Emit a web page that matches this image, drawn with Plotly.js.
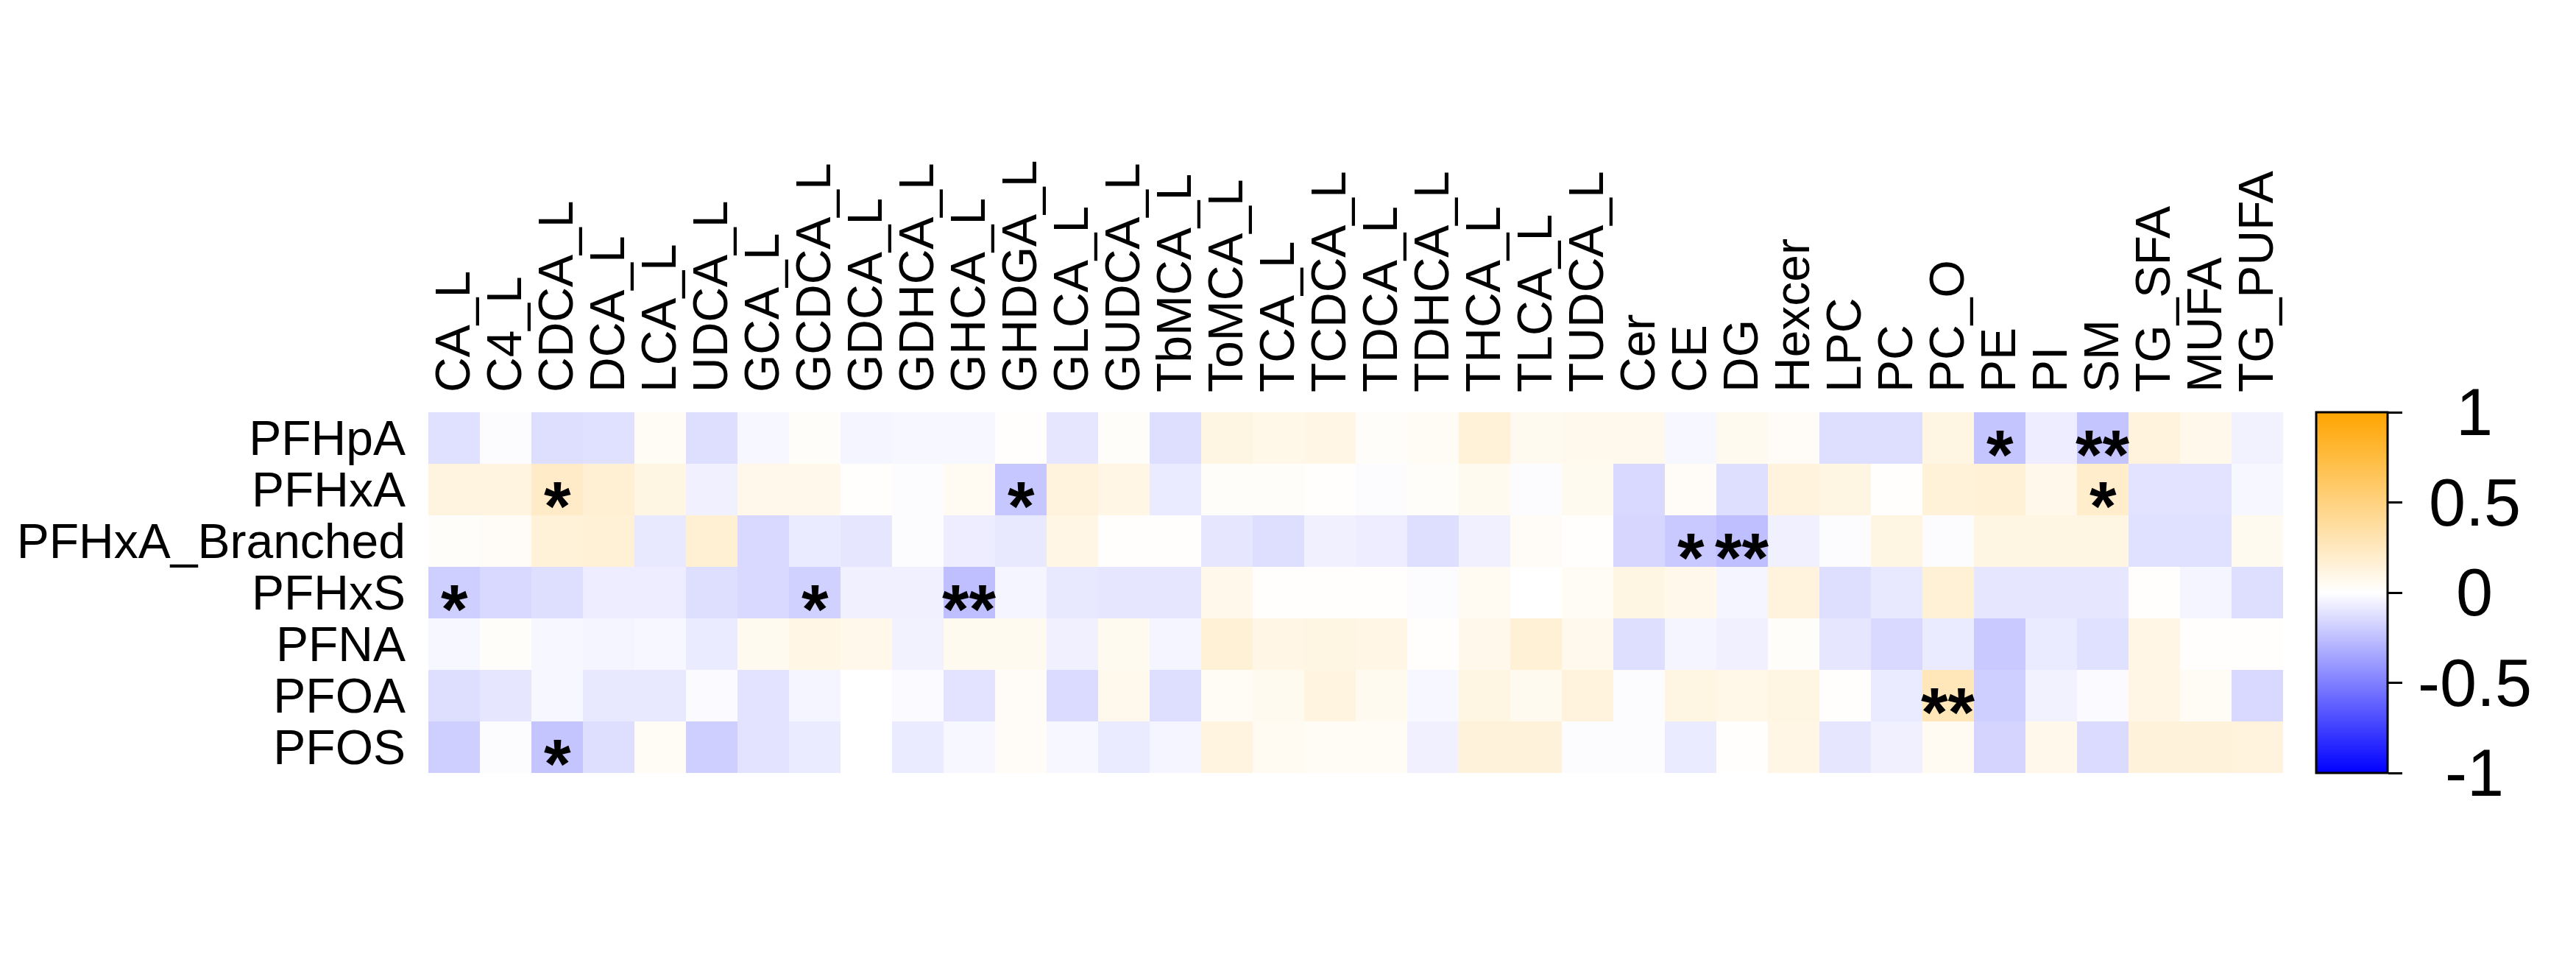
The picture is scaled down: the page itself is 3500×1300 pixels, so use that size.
<!DOCTYPE html>
<html>
<head>
<meta charset="utf-8">
<script src="https://cdn.plot.ly/plotly-3.0.1.min.js"></script>
<style>html,body{margin:0;padding:0;background:#fff;}</style>
</head>
<body>
<div id="chart" style="width:3500px;height:1300px;"></div>
<script>
// ---- Data ----
const rows = ["PFHpA", "PFHxA", "PFHxA_Branched", "PFHxS", "PFNA", "PFOA", "PFOS"];
const cols = ["CA_L", "C4_L", "CDCA_L", "DCA_L", "LCA_L", "UDCA_L", "GCA_L", "GCDCA_L", "GDCA_L", "GDHCA_L",
  "GHCA_L", "GHDGA_L", "GLCA_L", "GUDCA_L", "TbMCA_L", "ToMCA_L", "TCA_L", "TCDCA_L", "TDCA_L", "TDHCA_L",
  "THCA_L", "TLCA_L", "TUDCA_L", "Cer", "CE", "DG", "Hexcer", "LPC", "PC", "PC_O", "PE", "PI", "SM",
  "TG_SFA", "MUFA", "TG_PUFA"];

const PFHpA = [-0.12, -0.01, -0.13, -0.12, 0.04, -0.13, -0.03, 0.02, -0.04, -0.03, -0.03, 0.01, -0.10, 0.02, -0.13, 0.11, 0.09, 0.10, 0.02, 0.04, 0.15, 0.06, 0.07, 0.07, -0.03, 0.06, 0.03, -0.13, -0.13, 0.11, -0.23, -0.07, -0.23, 0.13, 0.08, -0.05];
const PFHxA = [0.12, 0.12, 0.22, 0.17, 0.11, -0.06, 0.08, 0.08, 0.01, -0.01, 0.05, -0.22, 0.13, 0.10, -0.08, 0.02, 0.02, 0.01, -0.01, 0.02, 0.06, -0.01, 0.06, -0.15, 0.03, -0.13, 0.13, 0.11, 0.01, 0.15, 0.16, 0.08, 0.20, -0.11, -0.11, -0.03];
const PFHxA_Branched = [0.02, 0.03, 0.15, 0.16, -0.09, 0.17, -0.15, -0.08, -0.10, -0.01, -0.07, -0.09, 0.10, 0.01, 0.01, -0.10, -0.13, -0.06, -0.07, -0.13, -0.06, 0.03, 0.01, -0.16, -0.21, -0.25, -0.06, -0.01, 0.11, -0.01, 0.11, 0.11, 0.11, -0.12, -0.12, 0.06];
const PFHxS = [-0.19, -0.15, -0.13, -0.07, -0.07, -0.13, -0.15, -0.18, -0.06, -0.06, -0.25, -0.04, -0.09, -0.10, -0.10, 0.08, 0.01, 0.01, 0.01, -0.01, 0.05, 0.00, 0.04, 0.11, 0.08, -0.04, 0.13, -0.13, -0.09, 0.16, -0.10, -0.10, -0.10, 0.01, -0.04, -0.13];
const PFNA = [-0.03, 0.02, -0.03, -0.04, -0.03, -0.08, 0.06, 0.10, 0.08, -0.05, 0.06, 0.06, -0.06, 0.06, -0.04, 0.16, 0.10, 0.11, 0.10, 0.01, 0.08, 0.16, 0.07, -0.13, -0.04, -0.06, 0.02, -0.10, -0.15, -0.08, -0.21, -0.08, -0.12, 0.10, 0.01, 0.01];
const PFOA = [-0.13, -0.10, -0.03, -0.09, -0.09, -0.02, -0.11, -0.04, 0.00, -0.02, -0.11, 0.03, -0.14, 0.07, -0.13, 0.04, 0.06, 0.12, 0.06, -0.03, 0.11, 0.06, 0.13, -0.01, 0.11, 0.09, 0.11, 0.01, -0.08, 0.27, -0.19, -0.05, -0.02, 0.10, 0.04, -0.15];
const PFOS = [-0.19, -0.01, -0.23, -0.13, 0.04, -0.19, -0.11, -0.08, 0.00, -0.08, -0.03, 0.03, -0.03, -0.08, -0.04, 0.12, 0.05, 0.04, 0.04, -0.06, 0.14, 0.14, -0.01, -0.01, -0.08, 0.01, 0.10, -0.10, -0.06, 0.05, -0.17, 0.08, -0.14, 0.14, 0.14, 0.13];

// significance markers
const sigRow = ["PFHpA", "PFHpA", "PFHxA", "PFHxA", "PFHxA", "PFHxA_Branched", "PFHxA_Branched", "PFHxS", "PFHxS", "PFHxS", "PFOA", "PFOS"];
const sigCol = ["PE", "SM", "CDCA_L", "GHDGA_L", "SM", "CE", "DG", "CA_L", "GCDCA_L", "GHCA_L", "PC_O", "CDCA_L"];
const sigLabel = ["*", "**", "*", "*", "*", "*", "**", "*", "*", "**", "**", "*"];

const cbTicks = [-1, -0.5, 0, 0.5, 1];
const cbTickText = ["-1", "-0.5", "0", "0.5", "1"];

// ---- Build ----
const z = [PFHpA, PFHxA, PFHxA_Branched, PFHxS, PFNA, PFOA, PFOS];
const FONT = "Liberation Sans, Arial, Helvetica, sans-serif";

const trace = {
  type: "heatmap",
  x: cols,
  y: rows,
  z: z,
  zmin: -1,
  zmax: 1,
  colorscale: [[0, "#0000FF"], [0.5, "#FFFFFF"], [1, "#FFA500"]],
  colorbar: {
    x: 1.0179, xref: "paper", xanchor: "left",
    y: 0.5, yref: "paper", yanchor: "middle",
    len: 1, lenmode: "fraction",
    thickness: 97, thicknessmode: "pixels",
    xpad: 0, ypad: 0,
    outlinecolor: "#000", outlinewidth: 3,
    ticks: "outside", ticklen: 19, tickwidth: 3, tickcolor: "#000",
    tickmode: "array", tickvals: cbTicks,
    showticklabels: false
  }
};

const annotations = [];
for (let i = 0; i < sigLabel.length; i++) {
  annotations.push({
    x: sigCol[i], y: sigRow[i], xref: "x", yref: "y",
    text: sigLabel[i], showarrow: false,
    font: {family: FONT, size: 94, color: "#000", weight: "bold"},
    yshift: -22
  });
}
for (let i = 0; i < cbTicks.length; i++) {
  annotations.push({
    x: 1.1032, xref: "paper", xanchor: "center",
    y: (cbTicks[i] + 1) / 2, yref: "paper", yanchor: "middle",
    text: cbTickText[i], showarrow: false,
    font: {family: FONT, size: 90, color: "#000"}
  });
}

const layout = {
  width: 3500, height: 1300, autosize: false,
  paper_bgcolor: "#fff", plot_bgcolor: "#fff",
  margin: {l: 582, r: 398, t: 560, b: 250, pad: 0},
  showlegend: false,
  xaxis: {
    side: "top", type: "category", tickangle: -90,
    range: [-0.5, cols.length - 0.5], autorange: false,
    tickmode: "array", tickvals: cols, ticktext: cols,
    tickfont: {family: FONT, size: 66, color: "#000"},
    showgrid: false, zeroline: false, showline: false, ticks: "",
    ticklabelstandoff: 26, automargin: false
  },
  yaxis: {
    type: "category",
    range: [rows.length - 0.5, -0.5], autorange: false,
    tickmode: "array", tickvals: rows, ticktext: rows,
    tickfont: {family: FONT, size: 66, color: "#000"},
    showgrid: false, zeroline: false, showline: false, ticks: "",
    ticklabelstandoff: 30, automargin: false
  },
  annotations: annotations
};

Plotly.newPlot("chart", [trace], layout, {displayModeBar: false, staticPlot: true});
</script>
</body>
</html>
